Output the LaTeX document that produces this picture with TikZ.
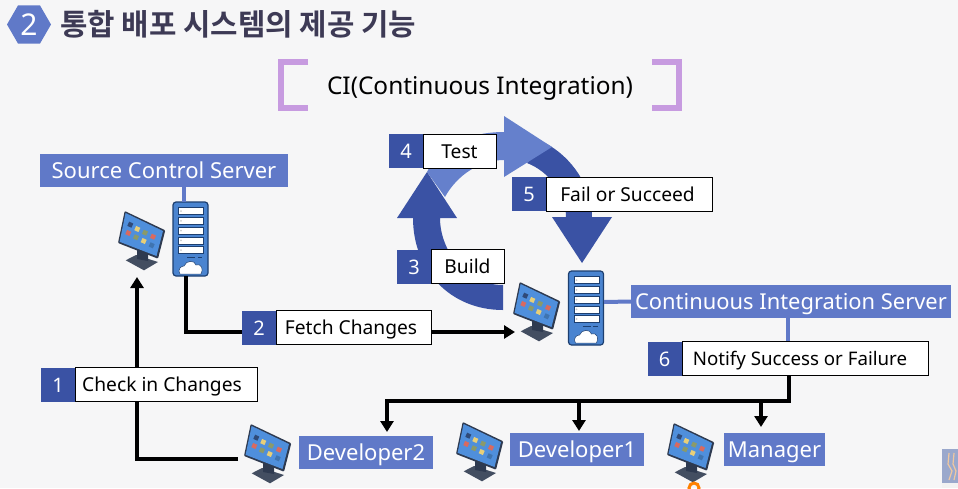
\documentclass[tikz,border=0pt]{standalone}
\usepackage{fontspec}
\setmainfont{Noto Sans}
\newfontfamily\krfont{Noto Sans CJK KR}[BoldFont={Noto Sans CJK KR Bold}]
\usetikzlibrary{arrows.meta,shapes.geometric,calc}
\definecolor{pagebg}{HTML}{F6F6F7}
\definecolor{lblblue}{HTML}{6079C8}
\definecolor{darkblue}{HTML}{3A52A4}
\definecolor{midblue}{HTML}{6580CC}
\definecolor{titleink}{HTML}{3D3A55}
\definecolor{bracketc}{HTML}{C79BE0}
\definecolor{srvblue}{HTML}{4A84D0}
\definecolor{srvedge}{HTML}{1D3F70}
\definecolor{scrblue}{HTML}{4F8FDC}
\definecolor{scredge}{HTML}{2E3A50}
\definecolor{icodark}{HTML}{2F4A78}
\definecolor{icoyel}{HTML}{E8CF78}
\definecolor{icoolv}{HTML}{8A9A6A}
\definecolor{icored}{HTML}{D86A60}
\definecolor{icoblu}{HTML}{3F74B0}
\definecolor{logobg}{HTML}{9AA8CC}
\definecolor{logoline}{HTML}{F0C8A0}
\tikzset{
  lbl/.style={fill=lblblue,text=white,inner sep=0pt,minimum height=33pt,text height=16.5pt,text depth=0pt,font=\fontsize{22}{24}\selectfont},
  numbox/.style={fill=darkblue,text=white,inner sep=0pt,minimum width=34pt,minimum height=34pt,text height=15pt,text depth=0pt,font=\fontsize{20}{22}\selectfont},
  stepbox/.style={fill=white,draw=black,line width=1pt,inner sep=0pt,minimum height=34pt,text height=14.8pt,text depth=0pt,font=\fontsize{19.2}{22}\selectfont},
  conn/.style={draw=black,line width=4pt,line cap=butt},
  connhead/.style={conn,-{Triangle[length=11pt,width=13pt]}},
  tie/.style={draw=lblblue,line width=4pt},
  ico/.style={minimum size=4.6pt,inner sep=0pt,rotate=-24,anchor=center},
  monitor/.pic={
    \coordinate (-in) at (2,50);
    \coordinate (-top) at (19,66);
    \coordinate (-out) at (-6,35);
    \fill[scredge!90] (7.7,49.3) -- (18,44) -- (40,51) -- (26,59.3) -- cycle;
    \fill[scredge] (19,38) -- (30,42) -- (30,50) -- (19,48) -- cycle;
    \fill[scredge,rounded corners=1pt] (6.7,0) -- (47.3,19.3) -- (40,47.7) -- (0,32) -- cycle;
    \fill[scrblue] (7.6,2) -- (45,20) -- (38.5,45) -- (1.6,30.8) -- cycle;
    \node[ico,fill=icodark] at (12.3,13.7) {};
    \node[ico,fill=icoyel] at (19.3,18) {};
    \node[ico,fill=icoolv] at (27,21.7) {};
    \node[ico,fill=icored] at (35,25.7) {};
    \node[ico,fill=icored] at (10.3,22) {};
    \node[ico,fill=icoolv] at (18,26.3) {};
    \node[ico,fill=icoyel] at (25.7,30) {};
    \node[ico,fill=icoblu] at (33.7,34.3) {};
  },
  server/.pic={
    \fill[srvblue,draw=srvedge,line width=1.2pt,rounded corners=3pt] (0,0) rectangle (35,74);
    \foreach \k in {0,1,2,3,4}{
      \fill[white,draw=srvedge,line width=.6pt] (5.7,5.7+\k*9.7) rectangle (30.7,12.7+\k*9.7);
      \fill[gray!40] (8,9.2+\k*9.7) circle (1pt);
    }
    \draw[srvedge,line width=.9pt] (14,55) -- (22,55) (24.5,55) -- (29,55);
    \fill[white,draw=srvedge,line width=.5pt] (7,72) .. controls (4,66) and (9,64) .. (11,64) .. controls (13,58) and (22,58) .. (23,63) .. controls (28,61) and (31,67) .. (28,72) -- cycle;
  },
}
\begin{document}
\begin{tikzpicture}[x=1pt,y=-1pt]
\clip (0,0) rectangle (958,488);
\fill[pagebg] (0,0) rectangle (958,488);

% heading
\node[regular polygon,regular polygon sides=6,fill=lblblue,minimum size=44pt,inner sep=0pt] (hex) at (29,24.5) {};
\node[text=white,inner sep=0pt,text height=21pt,text depth=0pt,font=\fontsize{30}{32}\selectfont] (hexnum) at (hex.center) {2};
\node[anchor=west,text=titleink,inner sep=0pt,font=\krfont\bfseries\fontsize{29.8}{34}\selectfont] (title) at (60,24) {통합 배포 시스템의 제공 기능};

% brackets and subtitle
\draw[bracketc,line width=6pt,line cap=butt] (308,62) -- (281,62) -- (281,108) -- (308,108);
\draw[bracketc,line width=6pt,line cap=butt] (652,62) -- (679,62) -- (679,108) -- (652,108);
\node[inner sep=0pt,text height=17.5pt,text depth=0pt,font=\fontsize{24.4}{28}\selectfont] (ci) at (480,86) {CI(Continuous Integration)};

% cycle arrows
\fill[darkblue] (545,143) .. controls (572,157) and (592,187) .. (592,217) -- (612,217) -- (582,263) -- (552,217) -- (566,217) .. controls (566,195) and (550,172) .. (527,163) -- cycle;
\fill[midblue] (427,172) .. controls (440,145) and (470,132) .. (504,132) -- (504,116) -- (552,147) -- (504,177) -- (504,160) .. controls (480,160) and (457,175) .. (445,197) -- cycle;
\fill[darkblue] (503,310) .. controls (450,310) and (413,270) .. (413,218) -- (397,218) -- (427,172) -- (457,218) -- (440,218) .. controls (440,250) and (465,285) .. (503,285) -- cycle;

% devices
\pic (monS) at (118,211) {monitor};
\pic (monC) at (513,282) {monitor};
\pic (monB) at (244,424) {monitor};
\pic (monA) at (456,422) {monitor};
\pic (monM) at (667,423) {monitor};
\pic at (173,202) {server};
\pic at (568.5,271) {server};
\coordinate (srvS) at (186,276);
\coordinate (srvStop) at (184,202);
\coordinate (srvCright) at (604,302);

% blue labels
\node[lbl,minimum width=248pt] (src) at (164,170.5) {Source Control Server};
\node[lbl,minimum width=320pt] (cis) at (791,301.5) {\fontsize{21.9}{24}\selectfont Continuous Integration Server};
\node[lbl,minimum width=134pt] (dev2) at (366,452) {Developer2};
\node[lbl,minimum width=134pt] (dev1) at (577,449.5) {Developer1};
\node[lbl,minimum width=101pt] (mgr) at (774.5,449) {Manager};

% ties
\draw[tie] (srvStop) -- (srvStop |- src.south);
\draw[tie] (srvCright) -- (cis.west);
\coordinate (cisDrop) at (788,318);
\coordinate (boxTop) at (788,342);
\draw[tie] (cisDrop) -- (boxTop);

% connectors
\coordinate (busR) at (789,401);
\coordinate (tipB) at (387,432);
\coordinate (tipA) at (579,431);
\coordinate (tipM) at (761,427);
\draw[connhead] (srvS) |- (monC-in);
\draw[connhead] (monB-out) -| (monS-top);
\draw[connhead] (busR |- 0,376) |- (tipB |- busR) -- (tipB);
\draw[connhead] (tipA |- busR) -- (tipA);
\draw[connhead] (tipM |- busR) -- (tipM);

% numbered steps
\node[numbox] (n4) at (406,151) {4};
\node[stepbox,minimum width=73pt] (s4) at (459.5,151) {Test};
\node[numbox] (n5) at (529,194) {5};
\node[stepbox,minimum width=166pt] (s5) at (629,194) {Fail or Succeed\kern3pt};
\node[numbox] (n3) at (414,266.5) {3};
\node[stepbox,minimum width=73pt] (s3) at (467.5,266.5) {Build};
\node[numbox] (n2) at (259,327.5) {2};
\node[stepbox,minimum width=155pt] (s2) at (353.5,327.5) {Fetch Changes\kern5pt};
\node[numbox] (n1) at (58,384.5) {1};
\node[stepbox,minimum width=182pt] (s1) at (166,384.5) {Check in Changes\kern8pt};
\node[numbox] (n6) at (664.5,358.5) {6};
\node[stepbox,minimum width=246pt] (s6) at (805,358.5) {\fontsize{18.7}{22}\selectfont Notify Success or Failure\kern10pt};

% screen-corner fragments
\draw[orange,line width=3pt] (694,488) circle (5pt);
\fill[logobg] (942,449) rectangle (958,483);
\fill[white!90!gray] (942,483) rectangle (958,488);
\draw[logoline,line width=1.2pt] (949,453) -- (948,464) -- (952,471) -- (949,480) (954,453) -- (953,464) -- (956,471) -- (954,480);
\end{tikzpicture}
\end{document}
